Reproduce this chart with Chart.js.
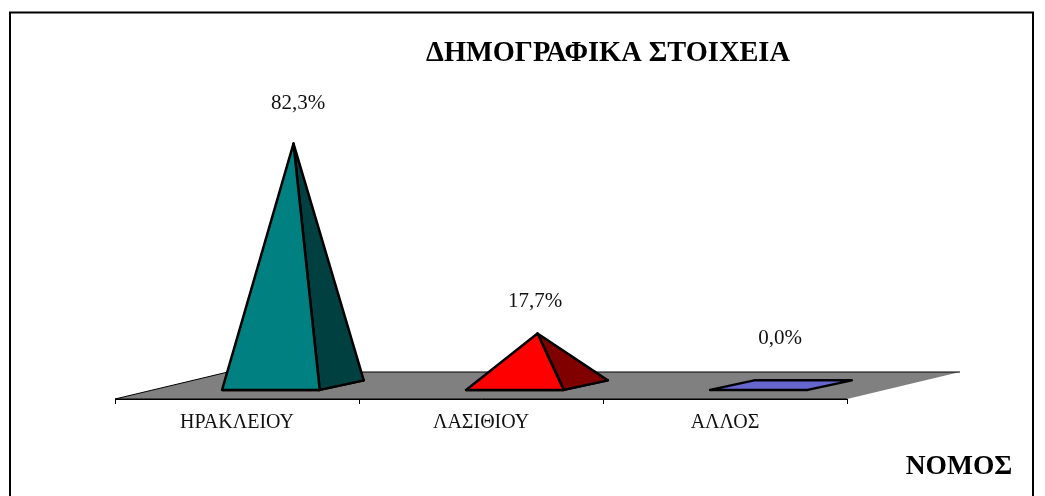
<!DOCTYPE html>
<html><head><meta charset="utf-8">
<style>html,body{margin:0;padding:0;background:#fff}canvas{display:block}</style>
<script src="https://cdn.jsdelivr.net/npm/chart.js@4"></script></head>
<body><div style="width:1045px;height:496px"><canvas id="c" width="1045" height="496"></canvas></div>
<script>
const categories = ["ΗΡΑΚΛΕΙΟΥ", "ΛΑΣΙΘΙΟΥ", "ΑΛΛΟΣ"];
const values = [82.3, 17.7, 0.0];
const valueLabels = ["82,3%", "17,7%", "0,0%"];
const frontColors = ["#008080", "#FF0000", "#6666CC"];
const sideColors = ["#004040", "#800000", "#333366"];
const chartTitle = "ΔΗΜΟΓΡΑΦΙΚΑ ΣΤΟΙΧΕΙΑ";
const axisTitle = "ΝΟΜΟΣ";
const SERIF = '"Liberation Serif","Times New Roman",serif';

const labelShift = [[61, -54], [54, -45], [55, -61]];
const floorDepth = [113, -27];

const pyramids = {
  id: "pyramids",
  beforeDraw(chart) {
    const g = chart.ctx;
    g.save();
    g.fillStyle = "#fff";
    g.fillRect(0, 0, chart.width, chart.height);
    g.strokeStyle = "#000";
    g.lineWidth = 2;
    g.strokeRect(10, 12.5, 1023, 500);
    g.restore();
  },
  beforeDatasetsDraw(chart) {
    const g = chart.ctx, a = chart.chartArea, [dx, dy] = floorDepth;
    g.save();
    g.beginPath();
    g.moveTo(a.left, a.bottom);
    g.lineTo(a.left + dx, a.bottom + dy);
    g.lineTo(a.right + dx, a.bottom + dy);
    g.lineTo(a.right, a.bottom);
    g.closePath();
    g.fillStyle = "#808080";
    g.fill();
    g.strokeStyle = "#000";
    g.lineWidth = 1;
    g.beginPath();
    g.moveTo(a.left, a.bottom);
    g.lineTo(a.left + dx, a.bottom + dy);
    g.lineTo(a.right + dx, a.bottom + dy);
    g.moveTo(a.left, a.bottom);
    g.lineTo(a.right, a.bottom);
    g.stroke();
    g.restore();
  },
  beforeDatasetDraw(chart, args) {
    const g = chart.ctx, [dx, dy] = floorDepth;
    const ds = chart.data.datasets[args.index];
    args.meta.data.forEach((bar, i) => {
      const hw = bar.width / 2;
      const f = 0.3, b = 0.69;
      const FL = [bar.x - hw + dx * f, bar.base + dy * f - 1];
      const FR = [bar.x + hw + dx * f, bar.base + dy * f - 1];
      const BR = [bar.x + hw + dx * b, bar.base + dy * b];
      const BL = [bar.x - hw + dx * b, bar.base + dy * b];
      const apex = [bar.x + dx * 0.5, bar.y + dy * 0.5];
      const poly = (pts, fill) => {
        g.beginPath();
        pts.forEach((p, k) => k ? g.lineTo(p[0], p[1]) : g.moveTo(p[0], p[1]));
        g.closePath();
        g.fillStyle = fill;
        g.fill();
        g.stroke();
      };
      g.save();
      g.strokeStyle = "#000";
      g.lineWidth = 2.5;
      g.lineJoin = "round";
      poly([FL, FR, BR, BL], ds.backgroundColor[i]);
      if (values[i] > 0) {
        poly([FR, BR, apex], sideColors[i]);
        poly([FL, FR, apex], ds.backgroundColor[i]);
      }
      g.fillStyle = "#111";
      g.font = "21px " + SERIF;
      g.textAlign = "center";
      g.textBaseline = "middle";
      g.fillText(valueLabels[i], bar.x + labelShift[i][0], bar.y + labelShift[i][1]);
      g.restore();
    });
    return false;
  },
  afterDraw(chart) {
    const g = chart.ctx;
    g.save();
    g.fillStyle = "#000";
    g.textAlign = "center";
    g.textBaseline = "middle";
    g.font = "bold 28.4px " + SERIF;
    g.fillText(chartTitle, 608, 54);
    g.font = "bold 27.5px " + SERIF;
    g.fillText(axisTitle, 959, 467);
    g.restore();
  }
};

new Chart(document.getElementById("c"), {
  type: "bar",
  data: {
    labels: categories,
    datasets: [{ data: values, backgroundColor: frontColors, barPercentage: 0.4, categoryPercentage: 1 }]
  },
  plugins: [pyramids],
  options: {
    responsive: false,
    animation: false,
    events: [],
    layout: { padding: { left: 115, right: 198, top: 105, bottom: 67 } },
    plugins: { legend: { display: false }, tooltip: { enabled: false } },
    scales: {
      y: { display: false, min: 0, max: 100 },
      x: {
        afterFit(s) { s.height = 30; },
        border: { color: "#000", width: 1 },
        grid: { drawOnChartArea: false, tickLength: 5, color: "#000" },
        ticks: { color: "#111", padding: 7, maxRotation: 0, font: { family: SERIF, size: 20 } }
      }
    }
  }
});
</script></body></html>
